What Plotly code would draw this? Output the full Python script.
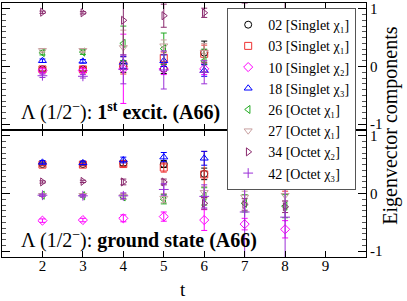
import plotly.graph_objects as go

t = [2, 3, 4, 5, 6, 7, 8]

names = ["02 [Singlet χ₁]", "03 [Singlet χ₁]", "10 [Singlet χ₂]",
         "18 [Singlet χ₃]", "26 [Octet χ₁]", "27 [Octet χ₁]",
         "34 [Octet χ₂]", "42 [Octet χ₃]"]
colors = ["#000000", "#ee3333", "#ff00ff", "#0000ff", "#22aa22", "#c8a0a0", "#8a2a6e", "#9b30d8"]
symbols = ["circle-open", "square-open", "diamond-open", "triangle-up-open",
           "triangle-left-open", "triangle-down-open", "triangle-right-open", "cross-thin-open"]

# first excited state (top panel)
exc_02 = [-0.05, -0.05, 0.00, -0.04, 0.24, 0.20, 0.10]
exc_03 = [-0.05, -0.05, 0.02, 0.15, 0.22, 0.20, 0.10]
exc_10 = [-0.07, -0.07, -0.04, -0.04, -0.04, -0.10, -0.10]
exc_18 = [0.10, 0.09, 0.07, 0.10, -0.07, 0.00, 0.00]
exc_26 = [0.24, 0.25, 0.40, 0.31, 0.10, 0.10, 0.10]
exc_27 = [0.28, 0.28, 0.33, 0.36, 0.25, 0.20, 0.20]
exc_34 = [0.94, 0.93, 0.80, 0.88, 0.93, 0.90, 0.90]
exc_42 = [-0.16, -0.17, -0.05, -0.06, -0.10, -0.10, -0.10]
exc_err_02 = [0.03, 0.03, 0.10, 0.08, 0.20, 0.40, 0.50]
exc_err_03 = [0.03, 0.03, 0.15, 0.10, 0.15, 0.40, 0.50]
exc_err_10 = [0.03, 0.03, 0.60, 0.10, 0.10, 0.40, 0.50]
exc_err_18 = [0.03, 0.03, 0.10, 0.10, 0.10, 0.40, 0.50]
exc_err_26 = [0.04, 0.04, 0.30, 0.27, 0.20, 0.40, 0.50]
exc_err_27 = [0.03, 0.03, 0.30, 0.10, 0.15, 0.40, 0.50]
exc_err_34 = [0.02, 0.02, 0.60, 0.20, 0.08, 0.20, 0.30]
exc_err_42 = [0.03, 0.03, 0.25, 0.33, 0.20, 0.40, 0.50]

# ground state (bottom panel)
gnd_02 = [0.51, 0.51, 0.52, 0.51, 0.34, 0.20, 0.17]
gnd_03 = [0.50, 0.50, 0.51, 0.45, 0.33, 0.17, 0.14]
gnd_10 = [-0.47, -0.46, -0.43, -0.40, -0.46, -0.53, -0.62]
gnd_18 = [0.54, 0.53, 0.58, 0.63, 0.61, 0.22, 0.20]
gnd_26 = [-0.03, -0.04, -0.06, -0.10, -0.05, -0.17, -0.22]
gnd_27 = [-0.03, -0.03, -0.05, -0.08, 0.02, -0.06, -0.03]
gnd_34 = [0.20, 0.21, 0.20, 0.20, -0.17, -0.19, -0.23]
gnd_42 = [-0.03, -0.04, -0.04, 0.07, -0.05, -0.32, -0.41]
gnd_err_02 = [0.02, 0.02, 0.04, 0.06, 0.10, 0.10, 0.10]
gnd_err_03 = [0.02, 0.02, 0.04, 0.08, 0.40, 0.10, 0.10]
gnd_err_10 = [0.03, 0.03, 0.06, 0.08, 0.18, 0.10, 0.15]
gnd_err_18 = [0.03, 0.03, 0.05, 0.08, 0.12, 0.10, 0.10]
gnd_err_26 = [0.02, 0.02, 0.04, 0.08, 0.15, 0.15, 0.20]
gnd_err_27 = [0.02, 0.02, 0.05, 0.08, 0.10, 0.10, 0.10]
gnd_err_34 = [0.02, 0.02, 0.05, 0.05, 0.10, 0.10, 0.10]
gnd_err_42 = [0.02, 0.02, 0.05, 0.10, 0.20, 0.90, 1.10]

exc = [exc_02, exc_03, exc_10, exc_18, exc_26, exc_27, exc_34, exc_42]
exc_err = [exc_err_02, exc_err_03, exc_err_10, exc_err_18, exc_err_26, exc_err_27, exc_err_34, exc_err_42]
gnd = [gnd_02, gnd_03, gnd_10, gnd_18, gnd_26, gnd_27, gnd_34, gnd_42]
gnd_err = [gnd_err_02, gnd_err_03, gnd_err_10, gnd_err_18, gnd_err_26, gnd_err_27, gnd_err_34, gnd_err_42]

x_ticks = [2, 3, 4, 5, 6, 7, 8, 9]

SERIF = "Liberation Serif, Times New Roman, Times, serif"
fig = go.Figure()

for i in range(8):
    for vals, errs, xa, ya, show in [(exc[i], exc_err[i], "x2", "y2", True),
                                     (gnd[i], gnd_err[i], "x", "y", False)]:
        fig.add_trace(go.Scatter(
            x=t, y=vals, mode="markers", name=names[i], legendgroup=names[i],
            showlegend=show, xaxis=xa, yaxis=ya,
            marker=dict(symbol=symbols[i], size=7, color=colors[i],
                        line=dict(color=colors[i], width=1)),
            error_y=dict(type="data", array=errs, color=colors[i], thickness=1, width=3),
        ))

yax = dict(range=[-1.1, 1.1], side="right", tickmode="array", tickvals=[-1, 0, 1],
           ticktext=["-1", "0", "1"], ticks="inside", ticklen=8, tickcolor="black",
           mirror="ticks", showline=True, linecolor="black", linewidth=1,
           showgrid=False, zeroline=False,
           tickfont=dict(family=SERIF, size=15, color="black"),
           minor=dict(tickmode="linear", tick0=0, dtick=0.1, ticks="inside",
                      ticklen=4, tickcolor="#555", showgrid=False))
xax = dict(range=[1, 10], tickmode="array", tickvals=x_ticks, ticks="inside", ticklen=6,
           tickcolor="black", mirror="ticks", showline=True, linecolor="black", linewidth=1,
           showgrid=False, zeroline=False, ticklabelstandoff=-5,
           tickfont=dict(family=SERIF, size=15, color="black"))

fig.update_layout(
    width=407, height=301,
    margin=dict(l=1, r=41, t=1, b=44),
    paper_bgcolor="white", plot_bgcolor="white",
    xaxis=dict(xax, anchor="y"),
    xaxis2=dict(xax, anchor="y2", matches="x", showticklabels=False),
    yaxis=dict(yax, domain=[0, 0.5], anchor="x"),
    yaxis2=dict(yax, domain=[0.5, 1], anchor="x2"),
    legend=dict(x=0.973, y=0.98, xanchor="right", yanchor="top", bgcolor="white",
                bordercolor="#555", borderwidth=1, tracegroupgap=0, itemwidth=30,
                font=dict(family=SERIF, size=14, color="black")),
    showlegend=True,
    annotations=[
        dict(text="Λ (1/2<sup>−</sup>): <b>1<sup>st</sup> excit. (A66)</b>", xref="paper", yref="paper",
             x=0.046, y=0.574, xanchor="left", yanchor="middle", showarrow=False,
             font=dict(family=SERIF, size=20, color="black")),
        dict(text="Λ (1/2<sup>−</sup>): <b>ground state (A66)</b>", xref="paper", yref="paper",
             x=0.046, y=0.070, xanchor="left", yanchor="middle", showarrow=False,
             font=dict(family=SERIF, size=20, color="black")),
        dict(text="Eigenvector components", xref="paper", yref="paper", x=1.068, y=0.516,
             xanchor="center", yanchor="middle", textangle=-90, showarrow=False,
             font=dict(family=SERIF, size=20, color="black")),
        dict(text="t", xref="paper", yref="paper", x=0.497, y=-0.129,
             xanchor="center", yanchor="middle", showarrow=False,
             font=dict(family=SERIF, size=19, color="black")),
    ],
)

fig.write_html("out.html", config={"displayModeBar": False},
               post_script="document.body.style.margin='0';document.body.style.overflow='hidden';")
